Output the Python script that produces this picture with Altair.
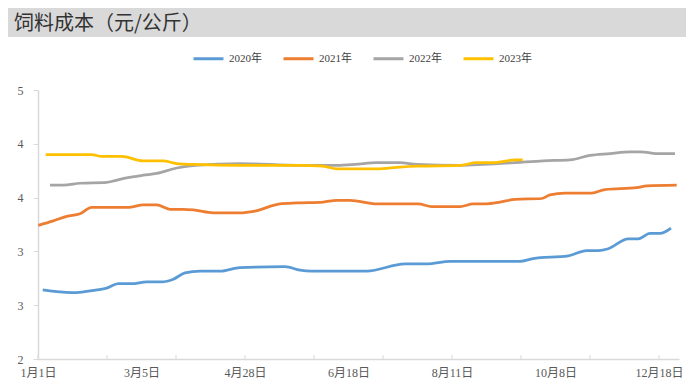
import altair as alt
import pandas as pd

# ---- data (x = category index, 11.5 px per step) ----
years = ["2020年", "2021年", "2022年", "2023年"]
colors = ["#5B9BD5", "#ED7D31", "#A5A5A5", "#FFC000"]

x2020 = [0.41, 2.93, 5.10, 5.97, 6.98, 8.15, 9.45, 10.76, 11.77, 12.78, 14.09, 15.83, 17.57, 21.48,
         22.78, 23.8, 28.58, 31.91, 33.8, 35.83, 41.91, 43.04, 46.11, 47.71, 48.72, 49.59, 51.33,
         52.2, 53.22, 54.09, 55.04]
v2020 = [2.77, 2.74, 2.77, 2.79, 2.84, 2.84, 2.86, 2.86, 2.89, 2.96, 2.98, 2.98, 3.02, 3.03,
         2.99, 2.98, 2.98, 3.06, 3.06, 3.09, 3.09, 3.12, 3.15, 3.21, 3.21, 3.23, 3.34,
         3.34, 3.40, 3.40, 3.46]

x2021 = [0.03, 1.33, 2.5, 3.65, 4.67, 7.85, 9.16, 10.32, 11.48, 12.63, 13.65, 15.24, 17.57, 18.87,
         21.04, 22.5, 24.81, 25.97, 27.13, 29.45, 33.07, 34.23, 36.7, 37.85, 39.02, 40.17, 41.48,
         43.8, 44.52, 45.83, 48.15, 49.3, 52.06, 52.93, 55.54]
v2021 = [3.49, 3.54, 3.59, 3.62, 3.69, 3.69, 3.72, 3.72, 3.67, 3.67, 3.66, 3.63, 3.63, 3.65,
         3.73, 3.74, 3.75, 3.77, 3.77, 3.73, 3.73, 3.70, 3.70, 3.73, 3.73, 3.75, 3.78,
         3.79, 3.83, 3.85, 3.85, 3.89, 3.91, 3.93, 3.94]

x2022 = [1.04, 2.2, 3.65, 5.97, 6.7, 7.71, 9.16, 10.32, 12.06, 13.65, 17.57, 22.78, 25.97, 27.57,
         29.45, 31.48, 32.93, 36.7, 38.72, 41.48, 43.94, 46.26, 48.0, 49.74, 51.48, 52.35, 54.09, 55.39]
v2022 = [3.94, 3.94, 3.96, 3.97, 3.99, 4.02, 4.05, 4.07, 4.13, 4.16, 4.18, 4.16, 4.16, 4.17,
         4.19, 4.19, 4.17, 4.16, 4.17, 4.19, 4.21, 4.22, 4.27, 4.29, 4.31, 4.31, 4.29, 4.29]

x2023 = [0.67, 4.67, 5.54, 7.28, 9.13, 10.87, 12.06, 13.65, 17.57, 22.78, 24.78, 26.0, 29.45,
         31.48, 32.93, 36.7, 38.15, 39.57, 41.48, 42.15]
v2023 = [4.28, 4.28, 4.26, 4.26, 4.21, 4.21, 4.18, 4.17, 4.16, 4.16, 4.15, 4.12, 4.12,
         4.14, 4.15, 4.16, 4.19, 4.19, 4.22, 4.22]

x_label_pos = [0, 9, 18, 27, 36, 45, 54]
x_labels = ["1月1日", "3月5日", "4月28日", "6月18日", "8月11日", "10月8日", "12月18日"]
x_tick_pos = [0, 6, 12, 18, 24, 30, 36, 42, 48, 54]
y_ticks = [2, 2.6, 3.2, 3.8, 4.4, 5]
title_text = "饲料成本（元/公斤）"

rows = []
for yr, xs, vs in zip(years, [x2020, x2021, x2022, x2023], [v2020, v2021, v2022, v2023]):
    for i, (a, b) in enumerate(zip(xs, vs)):
        rows.append({"year": yr, "idx": a, "value": b, "order": i})
df = pd.DataFrame(rows)

W, H = 641, 269
XMAX = 55.74
label_font = "'Liberation Serif', 'Noto Sans CJK SC', serif"

xscale = alt.Scale(domain=[0, XMAX], nice=False, zero=False)
yscale = alt.Scale(domain=[2, 5], nice=False, zero=False)

label_arr = "[" + ",".join("'" + s + "'" for s in x_labels) + "]"

lines = alt.Chart(df).mark_line(strokeWidth=2.75, interpolate="monotone").encode(
    x=alt.X("idx:Q", scale=xscale,
            axis=alt.Axis(values=x_label_pos, labelExpr=label_arr + "[round(datum.value/9)]",
                          ticks=False, grid=False, domainColor="#D9D9D9", domainWidth=1.5,
                          labelColor="#595959", labelFontSize=12, labelFont=label_font,
                          labelFlush=False, labelOverlap=False,
                          labelPadding=8, title=None)),
    y=alt.Y("value:Q", scale=yscale,
            axis=alt.Axis(values=y_ticks, format=".0f", grid=False, domainColor="#D9D9D9",
                          domainWidth=1.5, tickColor="#D9D9D9", tickSize=5, labelPadding=10,
                          labelColor="#595959", labelFontSize=12, labelFont=label_font,
                          labelOverlap=False, title=None)),
    color=alt.Color("year:N", scale=alt.Scale(domain=years, range=colors),
                    legend=alt.Legend(title=None, orient="none", legendX=154, legendY=-48,
                                      direction="horizontal", columns=4, symbolType="stroke",
                                      symbolSize=900, symbolStrokeWidth=3, columnPadding=15,
                                      labelFontSize=11, labelFont=label_font,
                                      labelColor="#404040", labelOffset=4)),
    order="order:Q",
)

tick_df = pd.DataFrame({"t": x_tick_pos})
ticks = alt.Chart(tick_df).mark_rule(color="#D9D9D9", strokeWidth=1).encode(
    x=alt.X("t:Q", scale=xscale),
    y=alt.value(H - 4), y2=alt.value(H),
)

one = pd.DataFrame({"a": [0]})
band = alt.Chart(one).mark_rect(color="#D9D9D9").encode(
    x=alt.value(-30), x2=alt.value(648), y=alt.value(-82), y2=alt.value(-53)
)
title = alt.Chart(one).mark_text(align="left", baseline="alphabetic", fontSize=20,
                                 font="Noto Sans CJK SC", color="#333333").encode(
    x=alt.value(-24), y=alt.value(-60), text=alt.value(title_text)
)

chart = alt.layer(band, title, ticks, lines).properties(
    width=W, height=H,
    autosize=alt.AutoSizeParams(type="none"),
    padding={"left": 30, "top": 82, "right": 7, "bottom": 28},
).configure_view(stroke=None)

chart.save("out.html", embed_options={"renderer": "svg", "actions": False})
